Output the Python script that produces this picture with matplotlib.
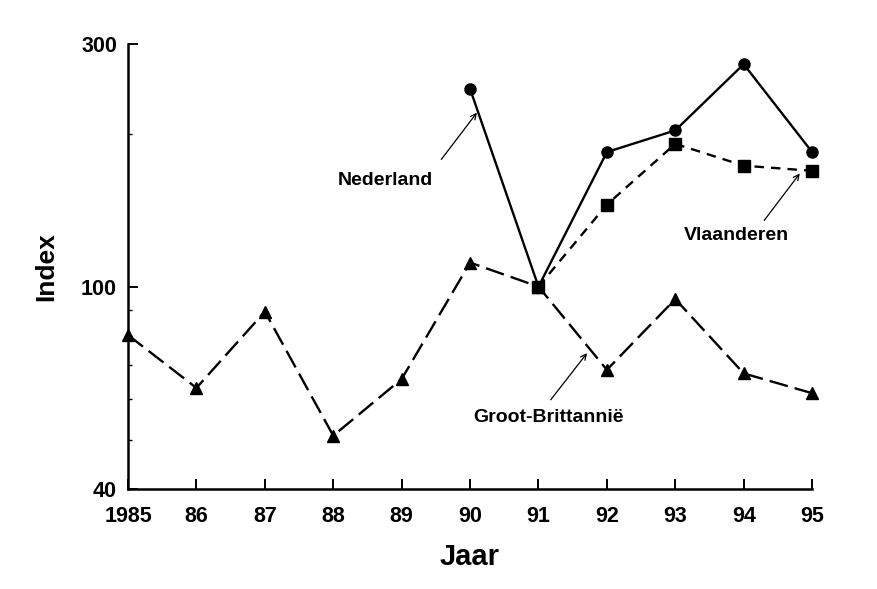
#!/usr/bin/env python3
from __future__ import annotations

import matplotlib

matplotlib.use("Agg")
import matplotlib.pyplot as plt
from matplotlib.ticker import FixedLocator, NullFormatter

years = [1985, 1986, 1987, 1988, 1989, 1990, 1991, 1992, 1993, 1994, 1995]
year_labels = ["1985", "86", "87", "88", "89", "90", "91", "92", "93", "94", "95"]

nederland_years = [1990, 1991, 1992, 1993, 1994, 1995]
nederland = [245, 100, 184, 203, 274, 184]

vlaanderen_years = [1991, 1992, 1993, 1994, 1995]
vlaanderen = [100, 145, 191, 173, 169]

gb = [80.3, 63.2, 89.3, 50.9, 65.8, 111.5, 100, 68.6, 94.5, 67.5, 61.7]

y_ticks = [40, 100, 300]
y_minor = [50, 60, 70, 80, 90, 200]


def main() -> int:
    plt.rcParams["font.family"] = ["Liberation Sans", "DejaVu Sans"]
    plt.rcParams["font.weight"] = "bold"

    fig = plt.figure(figsize=(8.77, 5.89), dpi=100)
    ax = fig.add_axes([0.146, 0.170, 0.780, 0.755])

    ax.plot(nederland_years, nederland, color="black", lw=1.7, marker="o",
            markersize=8, zorder=3, clip_on=False)
    ax.plot(vlaanderen_years, vlaanderen, color="black", lw=1.7, marker="s",
            markersize=8, dashes=(4, 3), zorder=3, clip_on=False)
    ax.plot(years, gb, color="black", lw=1.7, marker="^", markersize=8,
            dashes=(8, 3), zorder=2, clip_on=False)

    ax.set_yscale("log")
    ax.set_xlim(1985, 1995)
    ax.set_ylim(40, 300)
    ax.yaxis.set_major_locator(FixedLocator(y_ticks))
    ax.yaxis.set_minor_locator(FixedLocator(y_minor))
    ax.yaxis.set_minor_formatter(NullFormatter())
    ax.set_yticklabels([str(v) for v in y_ticks])
    ax.set_xticks(years)
    ax.set_xticklabels(year_labels)

    for side in ("top", "right"):
        ax.spines[side].set_visible(False)
    ax.spines["left"].set_linewidth(1.8)
    ax.spines["bottom"].set_linewidth(1.8)
    ax.tick_params(axis="both", which="major", direction="in", length=7,
                   width=1.4, labelsize=15.5)
    ax.tick_params(axis="x", pad=12)
    ax.tick_params(axis="y", pad=8)
    ax.tick_params(axis="y", which="minor", direction="in", length=3, width=1)

    ax.set_xlabel("Jaar", fontsize=21, fontweight="bold", labelpad=12)
    ax.set_ylabel("Index", fontsize=19, fontweight="bold", labelpad=16)

    arrow = dict(arrowstyle="->", color="black", lw=0.9, shrinkA=0, shrinkB=0)
    ax.annotate("", xy=(1990.10, 220), xytext=(1989.58, 178), arrowprops=arrow)
    ax.text(1988.76, 162, "Nederland", fontsize=14, fontweight="bold",
            ha="center", va="center")
    ax.annotate("", xy=(1994.82, 167), xytext=(1994.30, 135), arrowprops=arrow)
    ax.text(1993.89, 126, "Vlaanderen", fontsize=14, fontweight="bold",
            ha="center", va="center")
    ax.annotate("", xy=(1991.71, 74), xytext=(1991.18, 59.9), arrowprops=arrow)
    ax.text(1991.14, 55.2, "Groot-Brittannië", fontsize=14, fontweight="bold",
            ha="center", va="center")

    fig.savefig("out.png", dpi=100)
    plt.close(fig)
    return 0


if __name__ == "__main__":
    raise SystemExit(main())
